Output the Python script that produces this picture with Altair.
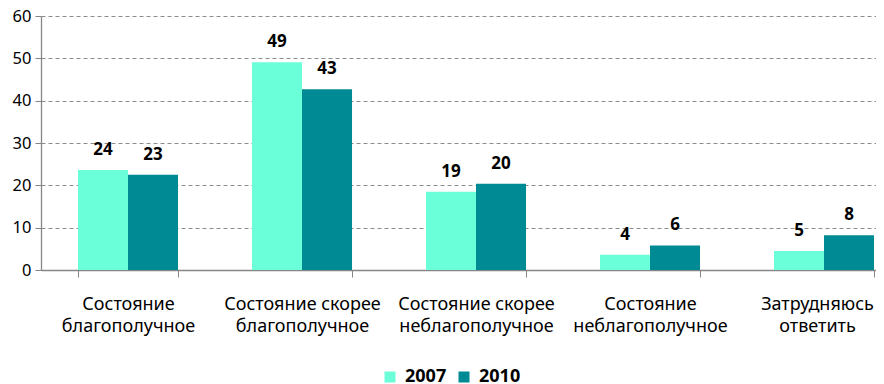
import altair as alt
import pandas as pd

categories = [
    "Состояние благополучное",
    "Состояние скорее благополучное",
    "Состояние скорее неблагополучное",
    "Состояние неблагополучное",
    "Затрудняюсь ответить",
]
years = ["2007", "2010"]
values_2007 = [23.6, 49.1, 18.5, 3.6, 4.5]
values_2010 = [22.5, 42.7, 20.4, 5.8, 8.2]
colors = ["#6bffd9", "#008a94"]

rows = []
for cat, a, b in zip(categories, values_2007, values_2010):
    rows.append({"category": cat, "year": years[0], "value": a})
    rows.append({"category": cat, "year": years[1], "value": b})
df = pd.DataFrame(rows)

FONT = "Noto Sans"

x = alt.X(
    "category:N",
    sort=categories,
    scale=alt.Scale(range=[0, 870], paddingInner=0.425, paddingOuter=0.2125),
    axis=alt.Axis(
        title=None,
        labelAngle=0,
        tickBand="extent",
        tickSize=7,
        tickColor="#868686",
        domainColor="#868686",
        labelFont=FONT,
        labelFontSize=18,
        labelColor="#000000",
        labelPadding=18,
        labelLineHeight=22,
        labelBound=False,
        labelOverlap=False,
        labelOffset={
            "condition": {"test": "datum.value === '" + categories[-1] + "'", "value": -7},
            "value": 0,
        },
        labelExpr="[substring(datum.label, 0, lastindexof(datum.label, ' ')), substring(datum.label, lastindexof(datum.label, ' ') + 1)]",
    ),
)
xo = alt.XOffset("year:N", sort=years, scale=alt.Scale(paddingInner=0, paddingOuter=0))
y = alt.Y(
    "value:Q",
    scale=alt.Scale(domain=[0, 60], nice=False),
    axis=alt.Axis(
        title=None,
        values=[0, 10, 20, 30, 40, 50, 60],
        grid=True,
        gridColor="#8c8c8c",
        gridDash=[4, 3],
        tickSize=6,
        tickColor="#868686",
        domainColor="#868686",
        labelFont=FONT,
        labelFontSize=16.5,
        labelColor="#000000",
        labelPadding=4,
    ),
)

base = alt.Chart(df)
bars = base.mark_bar().encode(
    x=x,
    xOffset=xo,
    y=y,
    color=alt.Color(
        "year:N",
        sort=years,
        scale=alt.Scale(domain=years, range=colors),
        legend=alt.Legend(
            title=None,
            orient="none",
            legendX=340,
            legendY=352,
            direction="horizontal",
            symbolType="square",
            symbolSize=121,
            symbolStrokeWidth=0,
            labelFont=FONT,
            labelFontSize=18,
            labelFontWeight="bold",
            labelColor="#000000",
            labelOffset=6,
            columnPadding=8,
        ),
    ),
)
labels = base.transform_calculate(
    label="format(round(datum.value), 'd')"
).mark_text(
    font=FONT, fontSize=17, fontWeight="bold", baseline="bottom", dy=-11, color="#000000"
).encode(x=x, xOffset=xo, y=y, text="label:N")

chart = (
    (bars + labels)
    .properties(
        width=835,
        height=254,
        autosize=alt.AutoSizeParams(type="none"),
        padding={"left": 33, "top": 8, "right": 0, "bottom": 114},
    )
    .configure_view(stroke=None)
    .configure_axis(domainWidth=1.3)
)

chart.save("out.html", embed_options={"renderer": "svg", "actions": False})
